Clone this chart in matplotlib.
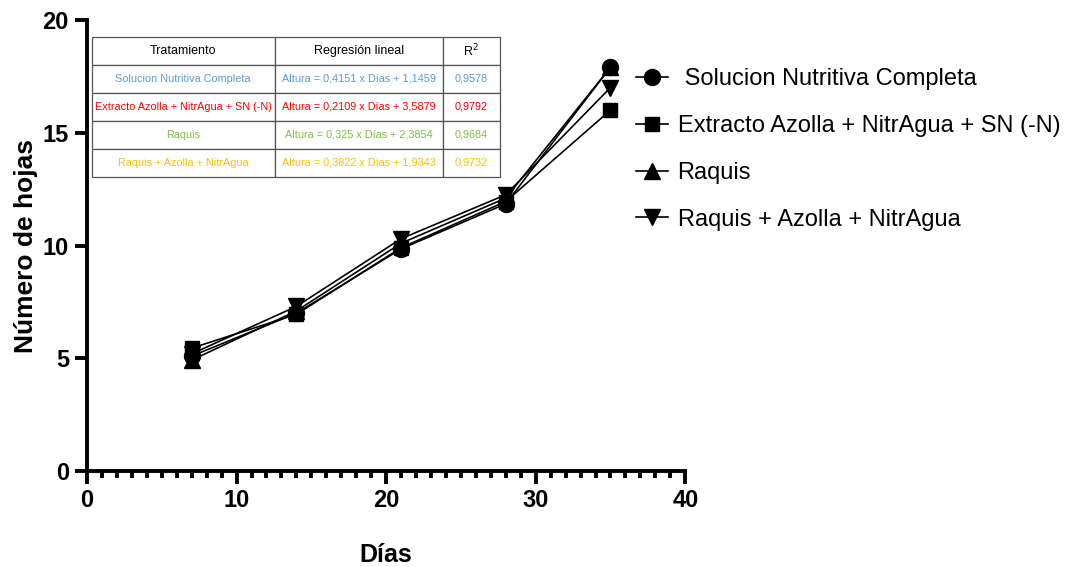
import matplotlib
matplotlib.use("Agg")
import matplotlib.pyplot as plt
from matplotlib.ticker import MultipleLocator

plt.rcParams['font.family'] = ['Liberation Sans', 'DejaVu Sans']

dias = [7, 14, 21, 28, 35]
solucion = [5.1, 7.0, 9.85, 11.85, 17.9]
extracto = [5.45, 6.95, 9.9, 11.95, 16.0]
raquis = [4.92, 7.1, 10.1, 12.1, 17.9]
raquis_azolla = [5.2, 7.3, 10.3, 12.25, 17.0]

nombres = [" Solucion Nutritiva Completa", "Extracto Azolla + NitrAgua + SN (-N)",
           "Raquis", "Raquis + Azolla + NitrAgua"]

tabla_filas = [
    ["Tratamiento", "Regresión lineal", "R$^2$"],
    ["Solucion Nutritiva Completa", "Altura = 0,4151 x Días + 1,1459", "0,9578"],
    ["Extracto Azolla + NitrAgua + SN (-N)", "Altura = 0,2109 x Días + 3,5879", "0,9792"],
    ["Raquis", "Altura = 0,325 x Días + 2,3854", "0,9684"],
    ["Raquis + Azolla + NitrAgua", "Altura = 0,3822 x Días + 1,9343", "0,9732"],
]
tabla_colores = ["black", "#5B9BD5", "#FF0000", "#7CC242", "#FFC000"]

fig = plt.figure(figsize=(10.79, 5.67), dpi=100)
ax = fig.add_axes([0.0806, 0.169, 0.5545, 0.796])

ax.plot(dias, raquis, color='black', lw=1.2, marker='^', ms=11, zorder=2, label=nombres[2])
ax.plot(dias, solucion, color='black', lw=1.2, marker='o', ms=11.5, zorder=3, label=nombres[0])
ax.plot(dias, extracto, color='black', lw=1.2, marker='s', ms=10, zorder=3, label=nombres[1])
ax.plot(dias, raquis_azolla, color='black', lw=1.2, marker='v', ms=11, zorder=3, label=nombres[3])

ax.set_xlim(0, 40)
ax.set_ylim(0, 20)
ax.xaxis.set_major_locator(MultipleLocator(10))
ax.xaxis.set_minor_locator(MultipleLocator(1))
ax.yaxis.set_major_locator(MultipleLocator(5))

for s in ['top', 'right']:
    ax.spines[s].set_visible(False)
for s in ['left', 'bottom']:
    ax.spines[s].set_linewidth(2.8)

ax.tick_params(axis='both', which='major', direction='out', width=2.8, length=9,
               labelsize=17, pad=4)
ax.tick_params(axis='x', which='minor', direction='out', width=2.8, length=5)
for lab in ax.get_xticklabels() + ax.get_yticklabels():
    lab.set_fontweight('bold')

ax.set_xlabel("Días", fontsize=18, fontweight='bold', labelpad=22)
ax.set_ylabel("Número de hojas", fontsize=19, fontweight='bold', labelpad=3)

# legend in the order of the reference
h, l = ax.get_legend_handles_labels()
orden = [1, 2, 0, 3]
ax.legend([h[i] for i in orden], [l[i] for i in orden], loc='upper left',
          bbox_to_anchor=(0.570, 0.917), bbox_transform=fig.transFigure,
          frameon=False, fontsize=17, handlelength=1.35, handletextpad=0.4,
          labelspacing=1.05)

# regression table
tab = ax.table(cellText=tabla_filas, cellLoc='center',
               colWidths=[183, 168, 57], bbox=[0.008, 0.652, 0.682, 0.31])
tab.auto_set_font_size(False)
for (r, c), cell in tab.get_celld().items():
    cell.set_edgecolor('#555555')
    cell.set_linewidth(0.9)
    cell.get_text().set_color(tabla_colores[r])
    cell.get_text().set_fontsize(7.8 if r > 0 else 9)
    cell.set_facecolor('white')
tab.set_zorder(5)

fig.savefig("out.png", dpi=100)
